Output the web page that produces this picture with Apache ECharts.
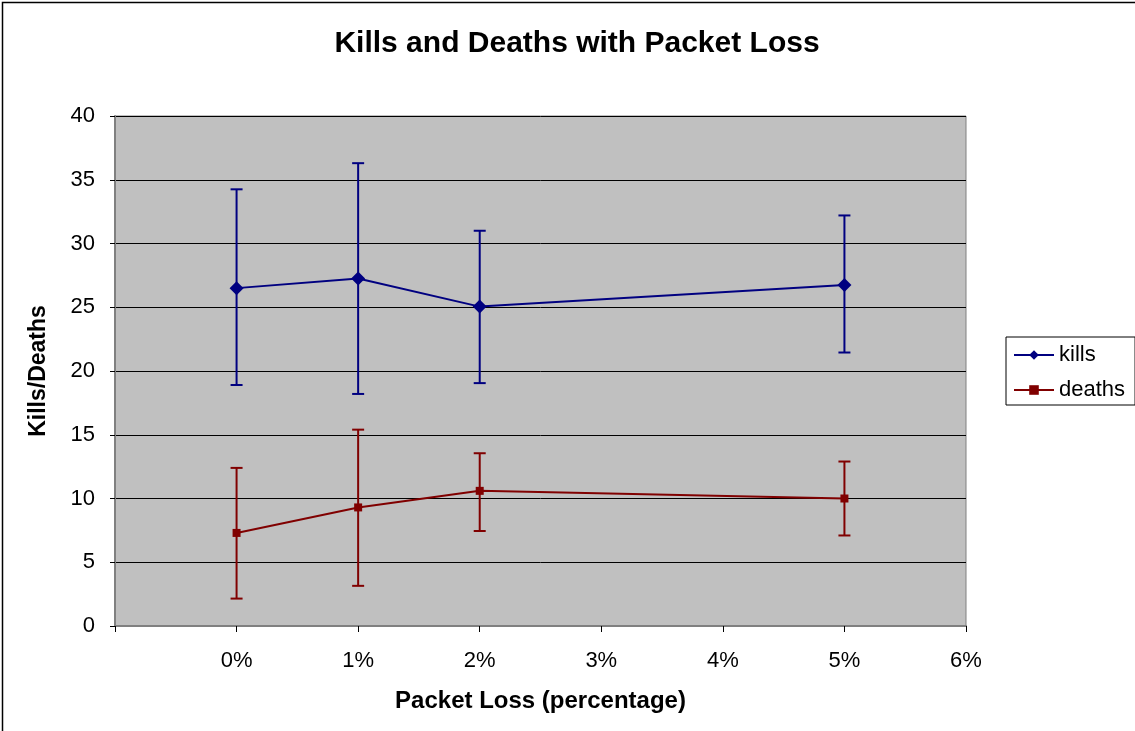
<!DOCTYPE html>
<html>
<head>
<meta charset="utf-8">
<script src="https://cdn.jsdelivr.net/npm/echarts@6/dist/echarts.min.js"></script>
<style>
  html, body { margin: 0; padding: 0; background: #fff; }
  #chart { width: 1135px; height: 731px; }
</style>
</head>
<body>
<div id="chart"></div>
<script>
// packet loss (%) for each measured point
var lossPct = [0, 1, 2, 5]
var kills = [26.5, 27.25, 25.05, 26.75]
var killsLow = [18.9, 18.2, 19.05, 21.45]
var killsHigh = [34.25, 36.3, 31.0, 32.2]
var deaths = [7.3, 9.3, 10.6, 10.0]
var deathsLow = [2.15, 3.15, 7.45, 7.1]
var deathsHigh = [12.4, 15.4, 13.55, 12.9]
var yTicks = [0, 40, 5] // min, max, step
var xTicks = [-1, 6, 1]

var FONT = 'Liberation Sans, Arial, sans-serif'

function pairs (xs, ys) {
  return xs.map(function (x, i) { return [x, ys[i]] })
}
function errData (xs, lo, hi) {
  return xs.map(function (x, i) { return [x, lo[i], hi[i]] })
}

function errorBars (color) {
  return function (params, api) {
    var x = api.value(0)
    var top = api.coord([x, api.value(2)])
    var bot = api.coord([x, api.value(1)])
    var cap = 6
    var style = { stroke: color, lineWidth: 2 }
    return {
      type: 'group',
      children: [
        { type: 'line', shape: { x1: top[0], y1: top[1], x2: bot[0], y2: bot[1] }, style: style },
        { type: 'line', shape: { x1: top[0] - cap, y1: top[1], x2: top[0] + cap, y2: top[1] }, style: style },
        { type: 'line', shape: { x1: bot[0] - cap, y1: bot[1], x2: bot[0] + cap, y2: bot[1] }, style: style }
      ]
    }
  }
}

var chart = echarts.init(document.getElementById('chart'))

chart.setOption({
  animation: false,
  backgroundColor: '#fff',
  textStyle: { fontFamily: FONT },
  graphic: [{
    type: 'rect',
    shape: { x: 2.5, y: 2.5, width: 1200, height: 800 },
    style: { fill: 'none', stroke: '#000', lineWidth: 1.5 },
    silent: true
  }, {
    type: 'text',
    x: 577,
    y: 29,
    style: {
      text: 'Kills and Deaths with Packet Loss',
      font: 'bold 30px ' + FONT,
      fill: '#000',
      align: 'center'
    }
  }],
  legend: {
    orient: 'vertical',
    left: 1006,
    top: 337,
    data: ['kills', 'deaths'],
    itemWidth: 40,
    itemHeight: 12,
    itemGap: 11,
    padding: [6, 10, 3, 7],
    borderColor: '#000',
    borderWidth: 1,
    backgroundColor: '#fff',
    textStyle: { fontSize: 22, lineHeight: 24, color: '#000', fontFamily: FONT }
  },
  grid: {
    left: 115,
    right: 169,
    top: 116,
    bottom: 105,
    show: true,
    backgroundColor: '#C0C0C0',
    borderColor: '#808080',
    borderWidth: 1
  },
  xAxis: {
    type: 'value',
    min: xTicks[0],
    max: xTicks[1],
    interval: xTicks[2],
    name: 'Packet Loss (percentage)',
    nameLocation: 'middle',
    nameGap: 63,
    nameTextStyle: { fontSize: 24, fontWeight: 'bold', color: '#000' },
    axisLine: { onZero: false, lineStyle: { color: '#808080', width: 2 } },
    axisTick: { length: 6, lineStyle: { color: '#000' } },
    splitLine: { show: false },
    axisLabel: {
      fontSize: 22,
      color: '#000',
      margin: 24,
      formatter: function (v) { return v < 0 ? '' : v + '%' }
    }
  },
  yAxis: {
    type: 'value',
    min: yTicks[0],
    max: yTicks[1],
    interval: yTicks[2],
    name: 'Kills/Deaths',
    nameLocation: 'middle',
    nameGap: 65,
    nameTextStyle: { fontSize: 23, fontWeight: 'bold', color: '#000' },
    axisLine: { show: true, onZero: false, lineStyle: { color: '#808080', width: 2 } },
    axisTick: { show: true, length: 5, lineStyle: { color: '#000' } },
    splitLine: { lineStyle: { color: '#000', width: 1 } },
    axisLabel: { fontSize: 22, color: '#000', margin: 20 }
  },
  series: [{
    name: 'kills',
    type: 'line',
    data: pairs(lossPct, kills),
    symbol: 'diamond',
    symbolSize: 14,
    color: '#000080',
    lineStyle: { color: '#000080', width: 2 },
    itemStyle: { color: '#000080' },
    z: 5
  }, {
    name: 'deaths',
    type: 'line',
    data: pairs(lossPct, deaths),
    symbol: 'rect',
    symbolSize: 8,
    color: '#800000',
    lineStyle: { color: '#800000', width: 2 },
    itemStyle: { color: '#800000' },
    z: 5
  }, {
    name: 'kills err',
    type: 'custom',
    renderItem: errorBars('#000080'),
    data: errData(lossPct, killsLow, killsHigh),
    encode: { x: 0, y: [1, 2] },
    z: 3
  }, {
    name: 'deaths err',
    type: 'custom',
    renderItem: errorBars('#800000'),
    data: errData(lossPct, deathsLow, deathsHigh),
    encode: { x: 0, y: [1, 2] },
    z: 3
  }]
})
</script>
</body>
</html>
